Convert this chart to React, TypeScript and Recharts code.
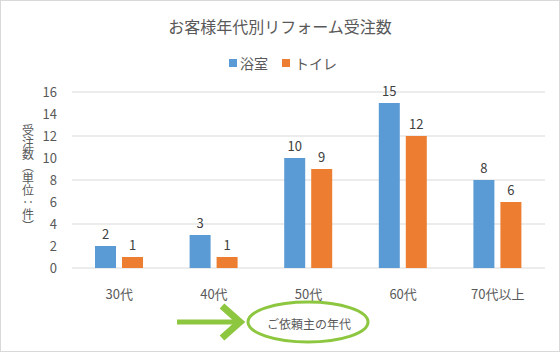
import React from 'react';
import { BarChart, Bar, XAxis, YAxis, CartesianGrid, LabelList } from 'recharts';

const categories = ['30代', '40代', '50代', '60代', '70代以上'];
const bathValues = [2, 3, 10, 15, 8];
const toiletValues = [1, 1, 9, 12, 6];
const yTicks = [0, 2, 4, 6, 8, 10, 12, 14, 16];
const title = 'お客様年代別リフォーム受注数';
const seriesNames = ['浴室', 'トイレ'];
const yLabel = '受注数（単位：件）';
const xLabel = 'ご依頼主の年代';

const data = categories.map((c, i) => ({ age: c, bath: bathValues[i], toilet: toiletValues[i] }));

const FONT = '"Noto Sans CJK JP", "Noto Sans", sans-serif';
const TEXT = '#595959';
const BLUE = '#5B9BD5';
const ORANGE = '#ED7D31';
const GREEN = '#8DC63F';

export default function App() {
  return (
    <div style={{ position: 'absolute', left: 0, top: 0, width: 560, height: 352, background: '#fff', fontFamily: FONT }}>
      <BarChart
        width={560}
        height={352}
        data={data}
        margin={{ top: 92, right: 15, bottom: 0, left: 0 }}
        barSize={21}
        barGap={6}
      >
        <CartesianGrid vertical={false} stroke="#d9d9d9" />
        <XAxis
          dataKey="age"
          axisLine={false}
          tickLine={false}
          height={84}
          tickMargin={16}
          tick={{ fill: TEXT, fontSize: 13, fontFamily: FONT }}
        />
        <YAxis
          domain={[0, 16]}
          ticks={yTicks}
          width={72}
          axisLine={false}
          tickLine={false}
          tickMargin={9}
          tick={{ fill: TEXT, fontSize: 13, fontFamily: FONT }}
        />
        <Bar dataKey="bath" name={seriesNames[0]} fill={BLUE} isAnimationActive={false}>
          <LabelList dataKey="bath" position="top" fill="#404040" fontSize={13} fontFamily={FONT} offset={7} />
        </Bar>
        <Bar dataKey="toilet" name={seriesNames[1]} fill={ORANGE} isAnimationActive={false}>
          <LabelList dataKey="toilet" position="top" fill="#404040" fontSize={13} fontFamily={FONT} offset={7} />
        </Bar>
      </BarChart>
      <svg width={560} height={352} style={{ position: 'absolute', left: 0, top: 0, pointerEvents: 'none' }}>
        <rect x={0.5} y={0.5} width={559} height={351} fill="none" stroke="#d9d9d9" />
        <text x={280} y={26} textAnchor="middle" dominantBaseline="central" fontSize={16} fill={TEXT} fontFamily={FONT}>
          {title}
        </text>
        <rect x={229} y={59} width={8} height={8} fill={BLUE} />
        <text x={240} y={63} dominantBaseline="central" fontSize={14} fill={TEXT} fontFamily={FONT}>
          {seriesNames[0]}
        </text>
        <rect x={282} y={59} width={8} height={8} fill={ORANGE} />
        <text x={295} y={63} dominantBaseline="central" fontSize={14} fill={TEXT} fontFamily={FONT}>
          {seriesNames[1]}
        </text>
        <text
          x={28}
          y={178}
          textAnchor="middle"
          fontSize={12}
          fill={TEXT}
          fontFamily={FONT}
          style={{ writingMode: 'vertical-rl' as any }}
        >
          {yLabel}
        </text>
        <line x1={177} y1={322} x2={236} y2={322} stroke={GREEN} strokeWidth={5} />
        <polyline points="222,306 240,322 222,338" fill="none" stroke={GREEN} strokeWidth={7} />
        <ellipse cx={308} cy={322} rx={60} ry={20} fill="none" stroke={GREEN} strokeWidth={3} />
        <text x={309} y={323} textAnchor="middle" dominantBaseline="central" fontSize={12} fill={TEXT} fontFamily={FONT}>
          {xLabel}
        </text>
      </svg>
    </div>
  );
}
